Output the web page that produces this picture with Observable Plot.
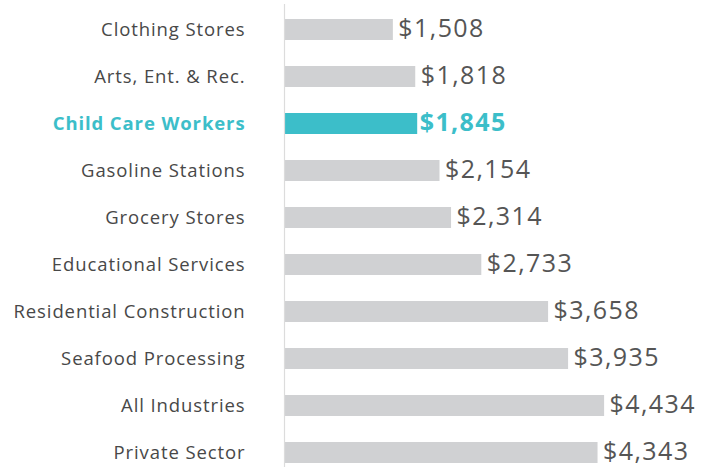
<!DOCTYPE html>
<html><head><meta charset="utf-8">
<script src="https://cdn.jsdelivr.net/npm/d3@7"></script>
<script src="https://cdn.jsdelivr.net/npm/@observablehq/plot@0.6"></script>
<style>body{margin:0;background:#fff;} svg{display:block;}</style>
</head><body><div id="chart"></div>
<script>
const categories = ["Clothing Stores","Arts, Ent. & Rec.","Child Care Workers","Gasoline Stations","Grocery Stores","Educational Services","Residential Construction","Seafood Processing","All Industries","Private Sector"];
const values = [1508,1818,1845,2154,2314,2733,3658,3935,4434,4343];
const highlight = "Child Care Workers";

const data = categories.map((c,i)=>({category:c, value:values[i], hi:c===highlight}));
const fmt = d => "$" + d3.format(",")(d);
const GRAY = "#d0d1d3", TEAL = "#3cbec9";

const chart = Plot.plot({
  width: 702, height: 467,
  marginLeft: 284, marginRight: 0, marginTop: 4, marginBottom: 0,
  style: {fontFamily: "'Open Sans', sans-serif", background: "#fff"},
  x: {domain: [0, 5790], axis: null},
  y: {domain: categories, range: [4.7, 476.7], padding: 0, axis: null},
  marks: [
    Plot.barX(data, {x: "value", y: "category", fill: d => d.hi ? TEAL : GRAY, insetTop: 13, insetBottom: 13}),
    Plot.ruleX([0], {stroke: "#dcdcdc", strokeWidth: 1.2}),
    Plot.text(data.filter(d=>!d.hi), {x: 0, y: "category", text: "category", textAnchor: "end", dx: -39, fontSize: 18.5, fill: "#484848"}),
    Plot.text(data.filter(d=>d.hi), {x: 0, y: "category", text: "category", textAnchor: "end", dx: -39, fontSize: 18.5, fontWeight: "bold", fill: TEAL}),
    Plot.text(data.filter(d=>!d.hi), {x: "value", y: "category", text: d => fmt(d.value), textAnchor: "start", dx: 5, dy: -1, fontSize: 25, fill: "#555"}),
    Plot.text(data.filter(d=>d.hi), {x: "value", y: "category", text: d => fmt(d.value), textAnchor: "start", dx: 2, dy: -1, fontSize: 25, fontWeight: "bold", fill: TEAL})
  ]
});
d3.select(chart).selectAll('g[font-size="25"]').attr("letter-spacing", "1.4");
d3.select(chart).selectAll('g[font-size="18.5"]').attr("letter-spacing", "0.9");
document.getElementById("chart").append(chart);
</script></body></html>
